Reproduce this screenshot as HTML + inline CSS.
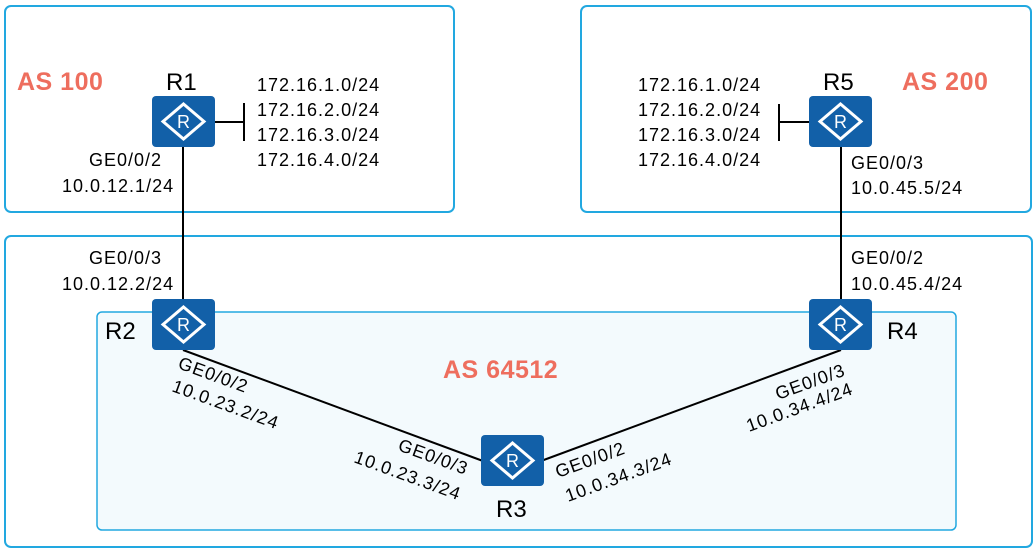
<!DOCTYPE html>
<html><head><meta charset="utf-8"><style>
html,body{margin:0;padding:0;background:#fff;}
svg{display:block;font-family:"Liberation Sans",sans-serif;}
</style></head><body>
<svg width="1036" height="550" viewBox="0 0 1036 550" xmlns="http://www.w3.org/2000/svg">
<defs>
<g id="rt">
<rect x="0" y="0" width="63" height="51" rx="4" fill="#1260a8"/>
<polygon points="31.5,8 52,25.5 31.5,43 11,25.5" fill="none" stroke="#fff" stroke-width="3"/>
<text x="31.5" y="32" font-size="18" fill="#fff" text-anchor="middle">R</text>
</g>
</defs>
<rect x="5" y="6" width="449" height="206" rx="6" fill="#fff" stroke="#22a8e0" stroke-width="2"/>
<rect x="581" y="6" width="450" height="206" rx="6" fill="#fff" stroke="#22a8e0" stroke-width="2"/>
<rect x="5" y="236" width="1027" height="311" rx="6" fill="#fff" stroke="#22a8e0" stroke-width="2"/>
<rect x="97" y="312" width="859" height="218" rx="5" fill="#f3fafd" stroke="#22a8e0" stroke-width="1.5"/>

<g stroke="#000" stroke-width="2">
<line x1="183" y1="146" x2="183" y2="300"/>
<line x1="841" y1="146" x2="841" y2="300"/>
<line x1="183" y1="350" x2="483" y2="461"/>
<line x1="541" y1="461" x2="841" y2="350"/>
<line x1="214" y1="122" x2="244" y2="122"/>
<line x1="244" y1="103" x2="244" y2="141"/>
<line x1="809" y1="122" x2="779" y2="122"/>
<line x1="779" y1="104" x2="779" y2="141"/>
</g>

<use href="#rt" x="152" y="96"/>
<use href="#rt" x="809" y="96"/>
<use href="#rt" x="152" y="299"/>
<use href="#rt" x="809" y="299"/>
<use href="#rt" x="481" y="435"/>

<g font-size="25" font-weight="bold" fill="#ee6e5e" letter-spacing="0.5">
<text x="17" y="90">AS 100</text>
<text x="902" y="90">AS 200</text>
<text x="443" y="378">AS 64512</text>
</g>
<g font-size="24" fill="#000">
<text x="166" y="90">R1</text>
<text x="823" y="90">R5</text>
<text x="105" y="339">R2</text>
<text x="887" y="339">R4</text>
<text x="496" y="517">R3</text>
</g>
<g font-size="18" fill="#000" letter-spacing="1">
<text x="257" y="91">172.16.1.0/24</text>
<text x="257" y="116">172.16.2.0/24</text>
<text x="257" y="141">172.16.3.0/24</text>
<text x="257" y="166">172.16.4.0/24</text>
<text x="638" y="91">172.16.1.0/24</text>
<text x="638" y="116">172.16.2.0/24</text>
<text x="638" y="141">172.16.3.0/24</text>
<text x="638" y="166">172.16.4.0/24</text>
<text x="89" y="166">GE0/0/2</text>
<text x="62" y="192">10.0.12.1/24</text>
<text x="851" y="169">GE0/0/3</text>
<text x="851" y="194">10.0.45.5/24</text>
<text x="89" y="264">GE0/0/3</text>
<text x="62" y="290">10.0.12.2/24</text>
<text x="851" y="264">GE0/0/2</text>
<text x="851" y="290">10.0.45.4/24</text>
<text transform="translate(177,368) rotate(20)">GE0/0/2</text>
<text transform="translate(171,391) rotate(20)">10.0.23.2/24</text>
<text transform="translate(397,450) rotate(20)">GE0/0/3</text>
<text transform="translate(353,462) rotate(20)">10.0.23.3/24</text>
<text transform="translate(558,478) rotate(-20)">GE0/0/2</text>
<text transform="translate(568,502) rotate(-20)">10.0.34.3/24</text>
<text transform="translate(778,400) rotate(-20)">GE0/0/3</text>
<text transform="translate(749,432) rotate(-20)">10.0.34.4/24</text>
</g>
</svg>
</body></html>
